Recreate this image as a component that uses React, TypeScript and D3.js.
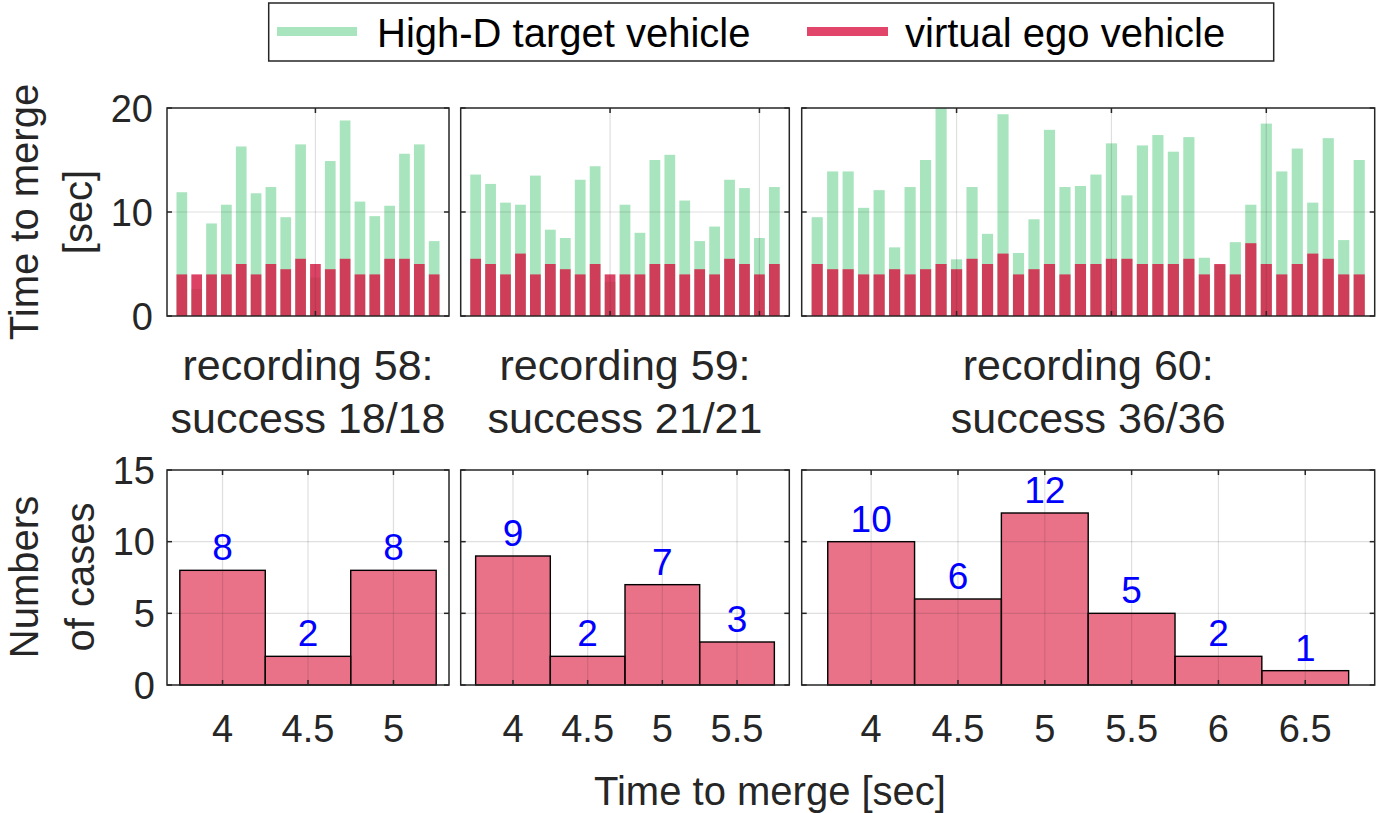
import React from 'react';
import * as d3 from 'd3';

// recording 58
const rec58Target = [11.9, 2.6, 8.9, 10.7, 16.3, 11.8, 12.4, 9.5, 16.5, 3.7, 14.9, 18.8, 11.0, 9.6, 10.6, 15.6, 16.5, 7.2];
const rec58Ego = [4, 4, 4, 4, 5, 4, 5, 4.5, 5.5, 5, 4.5, 5.5, 4, 4, 5.5, 5.5, 5, 4];
// recording 59
const rec59Target = [13.6, 12.7, 10.9, 10.7, 13.5, 8.3, 7.5, 13.1, 14.4, 3.3, 10.7, 8.0, 15.0, 15.5, 11.1, 7.2, 8.6, 13.1, 12.3, 7.5, 12.4];
const rec59Ego = [5.5, 5, 4, 6, 4, 5, 4.5, 4, 5, 4, 4, 4, 5, 5, 4, 4.5, 4, 5.5, 5, 4, 5];
// recording 60
const rec60Target = [9.5, 13.9, 13.9, 10.4, 12.1, 6.6, 12.4, 15.0, 20.0, 5.45, 12.4, 7.9, 19.4, 6.06, 9.3, 17.9, 12.4, 12.5,
  13.6, 16.6, 11.6, 16.4, 17.4, 15.8, 17.2, 5.6, 4.9, 7.1, 10.7, 18.5, 13.9, 16.1, 10.9, 17.1, 7.3, 15.0];
const rec60Ego = [5, 4.5, 4.5, 4, 4, 4.5, 4, 4.5, 5, 4.5, 5.5, 5, 6, 4, 4.5, 5, 4, 5,
  5, 5.5, 5.5, 5, 5, 5, 5.5, 4, 5, 4, 7, 5, 4, 5, 6, 5.5, 4, 4];

// histograms of the ego merge time
const hist58Bins = [4, 4.5, 5];
const hist58Counts = [8, 2, 8];
const hist59Bins = [4, 4.5, 5, 5.5];
const hist59Counts = [9, 2, 7, 3];
const hist60Bins = [4, 4.5, 5, 5.5, 6, 6.5];
const hist60Counts = [10, 6, 12, 5, 2, 1];

const titles = [
  ['recording 58:', 'success 18/18'],
  ['recording 59:', 'success 21/21'],
  ['recording 60:', 'success 36/36'],
];
const legendLabels = ['High-D target vehicle', 'virtual ego vehicle'];
const topYTicks = [0, 10, 20];
const botYTicks = [0, 5, 10, 15];

const FONT = '"Liberation Sans", Arial, Helvetica, sans-serif';
const TXT = '#262626';
const GREEN = '#a8e4bd';
const RED = 'rgb(214,33,72)';
const HIST = 'rgb(218,20,58)';

const panels = [
  { x0: 167, x1: 449, topDom: [0, 19], topTicks: [10], botDom: [3.675, 5.325], target: rec58Target, ego: rec58Ego, bins: hist58Bins, counts: hist58Counts },
  { x0: 460.7, x1: 789.3, topDom: [0, 22], topTicks: [10, 20], botDom: [3.65, 5.85], target: rec59Target, ego: rec59Ego, bins: hist59Bins, counts: hist59Counts },
  { x0: 801.7, x1: 1374.7, topDom: [0, 37], topTicks: [10, 20, 30], botDom: [3.6, 6.9], target: rec60Target, ego: rec60Ego, bins: hist60Bins, counts: hist60Counts },
];

const topY = d3.scaleLinear().domain([0, 20]).range([316, 108]);
const botY = d3.scaleLinear().domain([0, 15]).range([685, 470]);
const TL = 5; // tick length

function TopPanel({ p, first }: { p: any; first: boolean }) {
  const x = d3.scaleLinear().domain(p.topDom).range([p.x0, p.x1]);
  const bw = (x(1) - x(0)) * 0.72;
  const [y0, y1] = topY.range();
  return (
    <g>
      <rect x={p.x0} y={y1} width={p.x1 - p.x0} height={y0 - y1} fill="#fff" />
      {p.target.map((v: number, i: number) => (
        <rect key={'g' + i} x={x(i + 1) - bw / 2} y={topY(v)} width={bw} height={topY(0) - topY(v)} fill={GREEN} />
      ))}
      {p.ego.map((v: number, i: number) => (
        <rect key={'r' + i} x={x(i + 1) - bw / 2} y={topY(v)} width={bw} height={topY(0) - topY(v)} fill={RED} fillOpacity={0.85} />
      ))}
      {p.topTicks.map((t: number) => (
        <line key={'gx' + t} x1={x(t)} x2={x(t)} y1={y1} y2={y0} stroke={TXT} strokeOpacity={0.15} strokeWidth={1.2} />
      ))}
      {topYTicks.slice(1, -1).map((t) => (
        <line key={'gy' + t} x1={p.x0} x2={p.x1} y1={topY(t)} y2={topY(t)} stroke={TXT} strokeOpacity={0.15} strokeWidth={1.2} />
      ))}
      {p.topTicks.map((t: number) => (
        <g key={'tx' + t} stroke={TXT} strokeWidth={1.5}>
          <line x1={x(t)} x2={x(t)} y1={y0} y2={y0 - TL} />
          <line x1={x(t)} x2={x(t)} y1={y1} y2={y1 + TL} />
        </g>
      ))}
      {topYTicks.map((t) => (
        <g key={'ty' + t} stroke={TXT} strokeWidth={1.5}>
          <line x1={p.x0} x2={p.x0 + TL} y1={topY(t)} y2={topY(t)} />
          <line x1={p.x1} x2={p.x1 - TL} y1={topY(t)} y2={topY(t)} />
        </g>
      ))}
      <rect x={p.x0} y={y1} width={p.x1 - p.x0} height={y0 - y1} fill="none" stroke={TXT} strokeWidth={1.5} />
      {first && topYTicks.map((t) => (
        <text key={'ly' + t} x={p.x0 - 14} y={topY(t)} dy="0.36em" textAnchor="end" fontSize={38} fill={TXT}>{t}</text>
      ))}
    </g>
  );
}

function BottomPanel({ p, first }: { p: any; first: boolean }) {
  const x = d3.scaleLinear().domain(p.botDom).range([p.x0, p.x1]);
  const [y0, y1] = botY.range();
  const half = 0.25;
  return (
    <g>
      <rect x={p.x0} y={y1} width={p.x1 - p.x0} height={y0 - y1} fill="#fff" />
      {p.bins.map((b: number, i: number) => (
        <rect key={'h' + i} x={x(b - half)} y={botY(p.counts[i])} width={x(b + half) - x(b - half)} height={botY(0) - botY(p.counts[i])}
          fill={HIST} fillOpacity={0.6} stroke="#000" strokeWidth={1.4} />
      ))}
      {p.bins.map((t: number) => (
        <line key={'gx' + t} x1={x(t)} x2={x(t)} y1={y1} y2={y0} stroke={TXT} strokeOpacity={0.15} strokeWidth={1.2} />
      ))}
      {botYTicks.slice(1, -1).map((t) => (
        <line key={'gy' + t} x1={p.x0} x2={p.x1} y1={botY(t)} y2={botY(t)} stroke={TXT} strokeOpacity={0.15} strokeWidth={1.2} />
      ))}
      {p.bins.map((t: number) => (
        <g key={'tx' + t} stroke={TXT} strokeWidth={1.5}>
          <line x1={x(t)} x2={x(t)} y1={y0} y2={y0 - TL} />
          <line x1={x(t)} x2={x(t)} y1={y1} y2={y1 + TL} />
        </g>
      ))}
      {botYTicks.map((t) => (
        <g key={'ty' + t} stroke={TXT} strokeWidth={1.5}>
          <line x1={p.x0} x2={p.x0 + TL} y1={botY(t)} y2={botY(t)} />
          <line x1={p.x1} x2={p.x1 - TL} y1={botY(t)} y2={botY(t)} />
        </g>
      ))}
      <rect x={p.x0} y={y1} width={p.x1 - p.x0} height={y0 - y1} fill="none" stroke={TXT} strokeWidth={1.5} />
      {p.bins.map((b: number, i: number) => (
        <text key={'c' + i} x={x(b)} y={botY(p.counts[i]) - 10} textAnchor="middle" fontSize={37} fill="#0000ff">{p.counts[i]}</text>
      ))}
      {p.bins.map((t: number) => (
        <text key={'lx' + t} x={x(t)} y={742} textAnchor="middle" fontSize={38} fill={TXT}>{t}</text>
      ))}
      {first && botYTicks.map((t) => (
        <text key={'ly' + t} x={p.x0 - 12} y={botY(t)} dy="0.36em" textAnchor="end" fontSize={38} fill={TXT}>{t}</text>
      ))}
    </g>
  );
}

export default function App() {
  React.useEffect(() => {
    document.body.style.margin = '0';
  }, []);
  return (
    <svg width={1384} height={813} style={{ display: 'block', background: '#fff' }} fontFamily={FONT}>
      {/* legend */}
      <rect x={268.7} y={3} width={1005} height={58} fill="#fff" stroke={TXT} strokeWidth={1.5} />
      <line x1={277} x2={357} y1={31.5} y2={31.5} stroke={GREEN} strokeWidth={9} />
      <text x={377} y={47} fontSize={40} fill="#000">{legendLabels[0]}</text>
      <line x1={807} x2={888} y1={31.5} y2={31.5} stroke="#e2456a" strokeWidth={9} />
      <text x={905} y={47} fontSize={40} fill="#000">{legendLabels[1]}</text>

      {panels.map((p, i) => (
        <TopPanel key={'t' + i} p={p} first={i === 0} />
      ))}
      {panels.map((p, i) => (
        <BottomPanel key={'b' + i} p={p} first={i === 0} />
      ))}
      {panels.map((p, i) => (
        <g key={'ti' + i} fontSize={43} fill={TXT} textAnchor="middle">
          <text x={(p.x0 + p.x1) / 2} y={380}>{titles[i][0]}</text>
          <text x={(p.x0 + p.x1) / 2} y={433}>{titles[i][1]}</text>
        </g>
      ))}

      {/* y labels */}
      <g fontSize={40} fill={TXT} textAnchor="middle">
        <text transform={`translate(38,212) rotate(-90)`}>Time to merge</text>
        <text transform={`translate(92,212) rotate(-90)`}>[sec]</text>
        <text transform={`translate(38,577) rotate(-90)`}>Numbers</text>
        <text transform={`translate(94,577) rotate(-90)`}>of cases</text>
      </g>
      <text x={770} y={805} fontSize={40} fill={TXT} textAnchor="middle">Time to merge [sec]</text>
    </svg>
  );
}
